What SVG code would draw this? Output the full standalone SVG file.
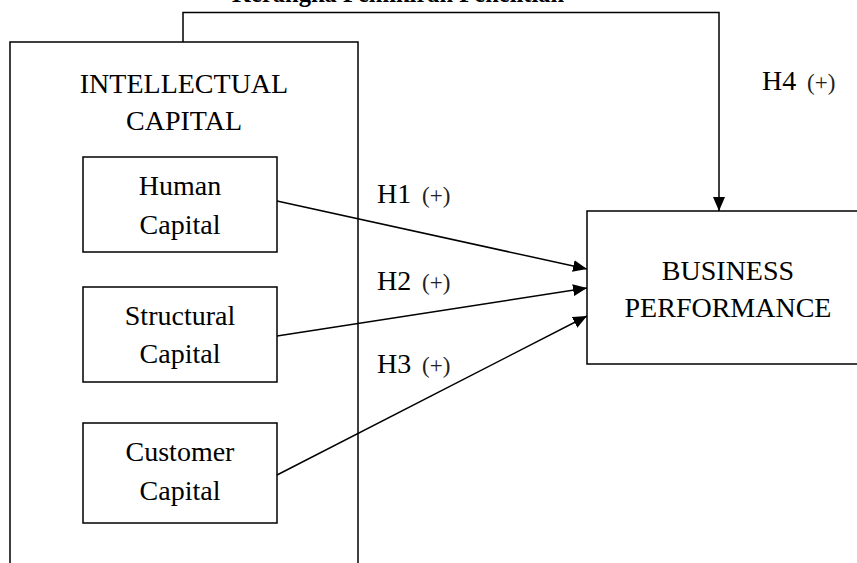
<svg xmlns="http://www.w3.org/2000/svg" width="857" height="563" viewBox="0 0 857 563">
<style>
text{font-family:"Liberation Serif","Times New Roman",serif;fill:#000}
.t{font-size:28px;text-anchor:middle}
.h{font-size:28px}
.p{font-size:23px;fill:#222}
.box{fill:#fff;stroke:#000;stroke-width:1.5}
.ln{fill:none;stroke:#000;stroke-width:1.5}
</style>
<defs>
<marker id="ah" viewBox="0 0 14 12" refX="14" refY="6" markerWidth="14" markerHeight="12" markerUnits="userSpaceOnUse" orient="auto">
<path d="M0,0 L14,6 L0,12 Z" fill="#000"/>
</marker>
</defs>
<rect width="857" height="563" fill="#fff"/>
<text x="232" y="2" style="font-size:24.5px;font-weight:bold">Kerangka Pemikiran Penelitian</text>
<g id="intellectual-capital">
<rect class="box" x="10" y="42" width="348" height="540"/>
<text class="t" x="184" y="93">INTELLECTUAL</text>
<text class="t" x="184" y="130">CAPITAL</text>
</g>
<g id="human-capital">
<rect class="box" x="83" y="157" width="194" height="95"/>
<text class="t" x="180" y="195">Human</text>
<text class="t" x="180" y="234">Capital</text>
</g>
<g id="structural-capital">
<rect class="box" x="83" y="287" width="194" height="95"/>
<text class="t" x="180" y="325">Structural</text>
<text class="t" x="180" y="363">Capital</text>
</g>
<g id="customer-capital">
<rect class="box" x="83" y="423" width="194" height="100"/>
<text class="t" x="180" y="461">Customer</text>
<text class="t" x="180" y="500">Capital</text>
</g>
<g id="business-performance">
<rect class="box" x="587" y="211" width="290" height="153"/>
<text class="t" x="728" y="280">BUSINESS</text>
<text class="t" x="728" y="317">PERFORMANCE</text>
</g>
<g id="connectors">
<path class="ln" d="M183,42 V12.5 H719 V211" marker-end="url(#ah)"/>
<line class="ln" x1="277" y1="201" x2="587" y2="269" marker-end="url(#ah)"/>
<line class="ln" x1="277" y1="336" x2="587" y2="288" marker-end="url(#ah)"/>
<line class="ln" x1="277" y1="475" x2="587" y2="316" marker-end="url(#ah)"/>
</g>
<g id="labels">
<text class="h" x="377" y="203">H1</text><text class="p" x="422" y="203">(+)</text>
<text class="h" x="377" y="290">H2</text><text class="p" x="422" y="290">(+)</text>
<text class="h" x="377" y="373">H3</text><text class="p" x="422" y="373">(+)</text>
<text class="h" x="762" y="90">H4</text><text class="p" x="807" y="90">(+)</text>
</g>
</svg>
